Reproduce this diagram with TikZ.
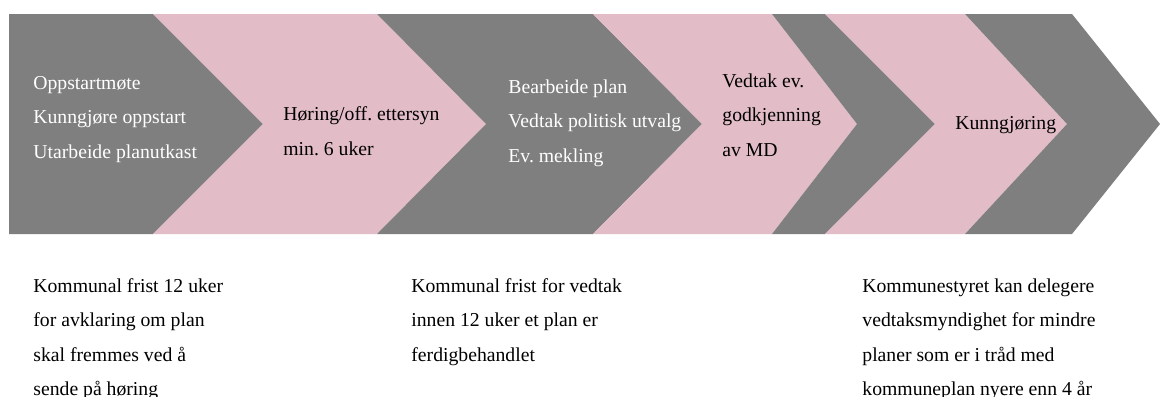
\documentclass[tikz,border=0pt]{standalone}
\usepackage{fontspec}
\setmainfont{Liberation Serif}
\frenchspacing
\definecolor{chevgray}{HTML}{7F7F7F}
\definecolor{chevpink}{HTML}{E2BCC7}
% one chevron of the process band: colour, left top x, left tip x, right top x, right tip x
\newcommand\chevronpart[5]{%
  \fill[#1] (#2,14) -- (#4,14) -- (#5,124) -- (#4,234) -- (#2,234) -- (#3,124) -- cycle;}
\begin{document}
\begin{tikzpicture}[x=0.5pt,y=-0.5pt,
  % multi-line labels are placed by the baseline of their last line
  lbl/.style={anchor=base west, inner sep=0pt, align=left,
              font=\fontsize{9.85}{17.25}\selectfont},
  ongray/.style={lbl, text=white},
  onpink/.style={lbl, text=black},
  note/.style={lbl, text=black}]
\useasboundingbox (0,0) rectangle (1165,396);

% process band
\chevronpart{chevgray}{9}{9}{153}{263}
\chevronpart{chevpink}{153}{263}{377}{486}
\chevronpart{chevgray}{377}{486}{593}{702}
\chevronpart{chevpink}{593}{702}{772}{857}
\chevronpart{chevgray}{772}{857}{825}{935}
\chevronpart{chevpink}{825}{935}{965}{1067}
\chevronpart{chevgray}{965}{1067}{1072}{1160}

% step texts
\node[ongray] (s1) at (33,158) {Oppstartmøte\\Kunngjøre oppstart\\Utarbeide planutkast};
\node[onpink] (s2) at (283,155) {Høring/off. ettersyn\\min. 6 uker};
\node[ongray] (s3) at (508,162) {Bearbeide plan\\Vedtak politisk utvalg\\Ev. mekling};
\node[onpink] (s4) at (722,156) {Vedtak ev.\\godkjenning\\av MD};
\node[onpink] (s5) at (955,129) {Kunngjøring};

% notes below the band
\node[note] (n1) at (33,395.5) {Kommunal frist 12 uker\\for avklaring om plan\\skal fremmes ved å\\sende på høring};
\node[note] (n2) at (411,361) {Kommunal frist for vedtak\\innen 12 uker et plan er\\ferdigbehandlet};
\node[note] (n3) at (862,395.5) {Kommunestyret kan delegere\\vedtaksmyndighet for mindre\\planer som er i tråd med\\kommuneplan nyere enn 4 år};
\end{tikzpicture}
\end{document}
